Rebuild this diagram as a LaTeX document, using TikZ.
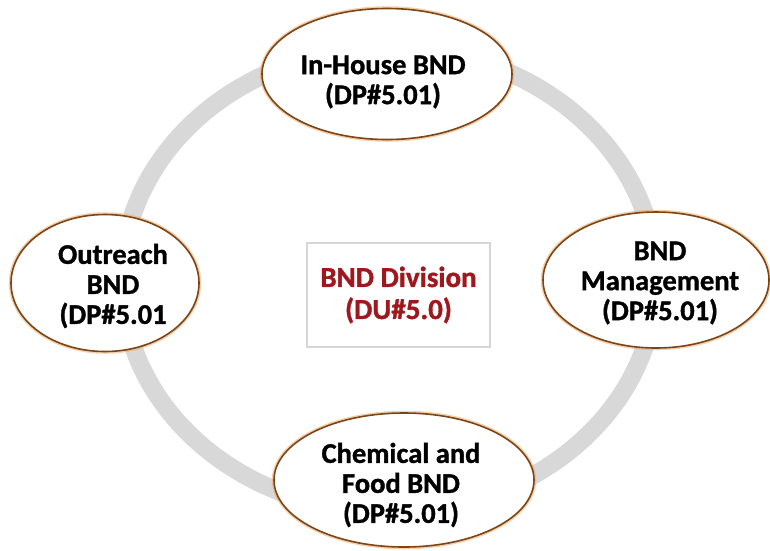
\documentclass[tikz,border=0pt]{standalone}
\usepackage{fontspec}
\setmainfont{Carlito}[BoldFeatures={FakeBold=1.2}]
\usetikzlibrary{shapes.geometric}
\definecolor{ringgray}{RGB}{216,216,216}
\definecolor{ovalbrown}{RGB}{125,68,22}
\definecolor{ovalglow}{RGB}{235,170,105}
\definecolor{boxgray}{RGB}{214,214,214}
\definecolor{divred}{RGB}{158,24,30}
\tikzset{
  oval/.style={ellipse, fill=white, draw=ovalbrown, line width=1.6pt,
    preaction={draw=ovalglow, line width=4.5pt, opacity=0.55},
    inner sep=0pt},
  ovaltext/.style={align=center, text=black, inner sep=0pt,
    font=\fontsize{28.5}{30}\selectfont\bfseries},
  centerbox/.style={rectangle, draw=boxgray, line width=2pt, fill=white,
    minimum width=183pt, minimum height=104pt, align=center, text=divred,
    font=\fontsize{29}{32}\selectfont\bfseries},
}
\begin{document}
\begin{tikzpicture}[x=1pt,y=-1pt]
\useasboundingbox (0,0) rectangle (770,550);
% gray ring
\draw[ringgray, line width=18pt] (389,280) ellipse [x radius=267, y radius=232];
% center box
\node[centerbox] (center) at (398.5,295) {BND Division\\(DU\#5.0)};
% ovals
\node[oval, minimum width=250pt, minimum height=131pt] (top) at (387,74) {};
\node[ovaltext] (toptext) at (383,82) {In-House BND\\(DP\#5.01)};
\node[oval, minimum width=188pt, minimum height=137pt] (left) at (105,283) {};
\node[ovaltext] (lefttext) at (113,286) {Outreach\\BND\\(DP\#5.01};
\node[oval, minimum width=226pt, minimum height=136pt] (right) at (656,280) {};
\node[ovaltext] (righttext) at (660,283) {BND\\Management\\(DP\#5.01)};
\node[oval, minimum width=260pt, minimum height=134pt] (bottom) at (404,480) {};
\node[ovaltext] (bottomtext) at (401,485) {Chemical and\\Food BND\\(DP\#5.01)};
\end{tikzpicture}
\end{document}
